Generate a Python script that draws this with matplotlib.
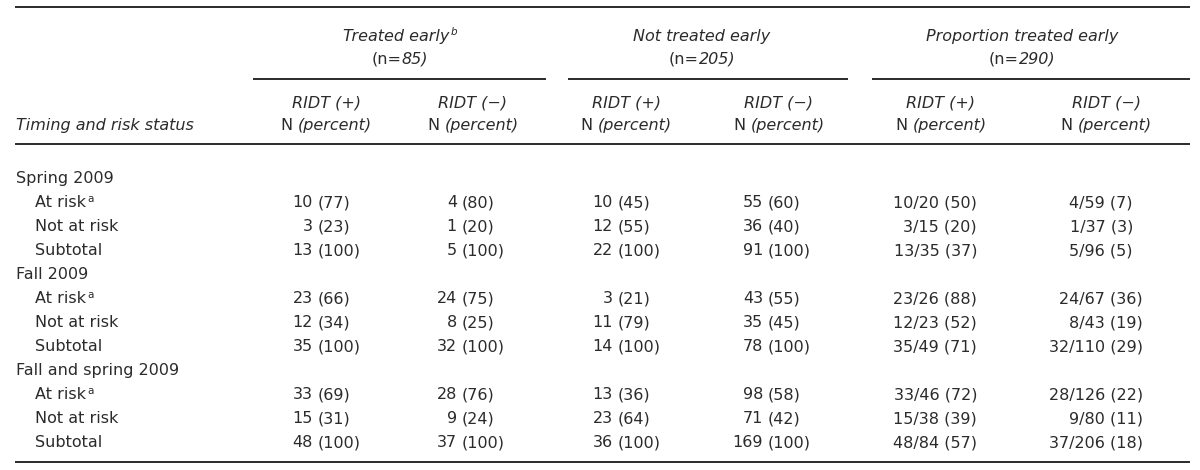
"""
Tabla: tratamiento temprano según RIDT, temporada y estado de riesgo.
Se dibuja como figura de matplotlib (texto + reglas horizontales).
"""

import matplotlib
matplotlib.use("Agg")
import matplotlib.pyplot as plt

# ---- datos ----
sections = ["Spring 2009", "Fall 2009", "Fall and spring 2009"]
subrows = ["At risk", "Not at risk", "Subtotal"]
subrow_note = ["a", "", ""]

treated_pos_n = [10, 3, 13, 23, 12, 35, 33, 15, 48]
treated_pos_pct = [77, 23, 100, 66, 34, 100, 69, 31, 100]
treated_neg_n = [4, 1, 5, 24, 8, 32, 28, 9, 37]
treated_neg_pct = [80, 20, 100, 75, 25, 100, 76, 24, 100]
not_pos_n = [10, 12, 22, 3, 11, 14, 13, 23, 36]
not_pos_pct = [45, 55, 100, 21, 79, 100, 36, 64, 100]
not_neg_n = [55, 36, 91, 43, 35, 78, 98, 71, 169]
not_neg_pct = [60, 40, 100, 55, 45, 100, 58, 42, 100]
prop_pos = ["10/20", "3/15", "13/35", "23/26", "12/23", "35/49", "33/46", "15/38", "48/84"]
prop_pos_pct = [50, 20, 37, 88, 52, 71, 72, 39, 57]
prop_neg = ["4/59", "1/37", "5/96", "24/67", "8/43", "32/110", "28/126", "9/80", "37/206"]
prop_neg_pct = [7, 3, 5, 36, 19, 29, 22, 11, 18]

groups = ["Treated early", "Not treated early", "Proportion treated early"]
group_note = ["b", "", ""]
group_n = [85, 205, 290]
col_heads = ["RIDT (+)", "RIDT (\u2212)"] * 3

INK = "#2b2b2b"
FS = 11.5

fig = plt.figure(figsize=(12, 4.7), dpi=100)
ax = fig.add_axes([0, 0, 1, 1])
ax.set_xlim(0, 1200)
ax.set_ylim(470, 0)
ax.axis("off")
renderer = fig.canvas.get_renderer()


def draw_runs(x, y, parts, ha="center"):
    """parts: (texto, kwargs, hueco_previo, dy). Centra o alinea el conjunto."""
    arts, widths = [], []
    for s, kw, gap, dy in parts:
        t = ax.text(0, y - dy, s, va="baseline", ha="left", color=INK, **kw)
        arts.append(t)
        widths.append(t.get_window_extent(renderer).width)
    total = sum(widths) + sum(p[2] for p in parts)
    x0 = x - total / 2 if ha == "center" else x
    for t, w, p in zip(arts, widths, parts):
        x0 += p[2]
        t.set_x(x0)
        x0 += w


IT = dict(fontsize=FS, style="italic")
UP = dict(fontsize=FS)
SUP = dict(fontsize=7.5)

# ---- reglas ----
lw = 1.4
ax.hlines([7, 144, 462], 15, 1190, color=INK, lw=lw)
for x0, x1 in [(253, 546), (568, 848), (872, 1190)]:
    ax.hlines(79, x0, x1, color=INK, lw=lw)

# ---- cabeceras ----
group_cx = [400, 702, 1022]
for cx, g, note, n in zip(group_cx, groups, group_note, group_n):
    parts = [(g, IT, 0, 0)]
    if note:
        parts.append((note, dict(fontsize=7.5, style="italic"), 1, 6))
    draw_runs(cx, 41, parts)
    draw_runs(cx, 64, [("(n=", UP, 0, 0), (f"{n})", IT, 0, 0)])

col_cx = [326, 473, 626, 779, 941, 1106]
for cx, h in zip(col_cx, col_heads):
    draw_runs(cx, 108, [(h, IT, 0, 0)])
    draw_runs(cx, 130, [("N", UP, 0, 0), ("(percent)", IT, 5, 0)])

ax.text(16, 130, "Timing and risk status", ha="left", va="baseline",
        color=INK, **IT)

# ---- cuerpo ----
num_cols = [
    (treated_pos_n, treated_pos_pct, 318),
    (treated_neg_n, treated_neg_pct, 462),
    (not_pos_n, not_pos_pct, 618),
    (not_neg_n, not_neg_pct, 768),
]

pitch = 24
line = 0
k = 0
for sec in sections:
    y = 183 + pitch * line
    ax.text(16, y, sec, ha="left", va="baseline", color=INK, **UP)
    line += 1
    for sub, note in zip(subrows, subrow_note):
        y = 183 + pitch * line
        parts = [(sub, UP, 0, 0)]
        if note:
            parts.append((note, SUP, 1, 5))
        draw_runs(35, y, parts, ha="left")
        for ns, ps, xp in num_cols:
            ax.text(xp - 5, y, str(ns[k]), ha="right", va="baseline",
                    color=INK, **UP)
            ax.text(xp, y, f"({ps[k]})", ha="left", va="baseline",
                    color=INK, **UP)
        ax.text(977, y, f"{prop_pos[k]} ({prop_pos_pct[k]})", ha="right",
                va="baseline", color=INK, **UP)
        pad = "\u2007" if prop_neg_pct[k] < 10 else ""
        ax.text(1143, y, f"{prop_neg[k]} ({prop_neg_pct[k]}){pad}", ha="right",
                va="baseline", color=INK, **UP)
        line += 1
        k += 1

fig.savefig("out.png", dpi=100, facecolor="white")
